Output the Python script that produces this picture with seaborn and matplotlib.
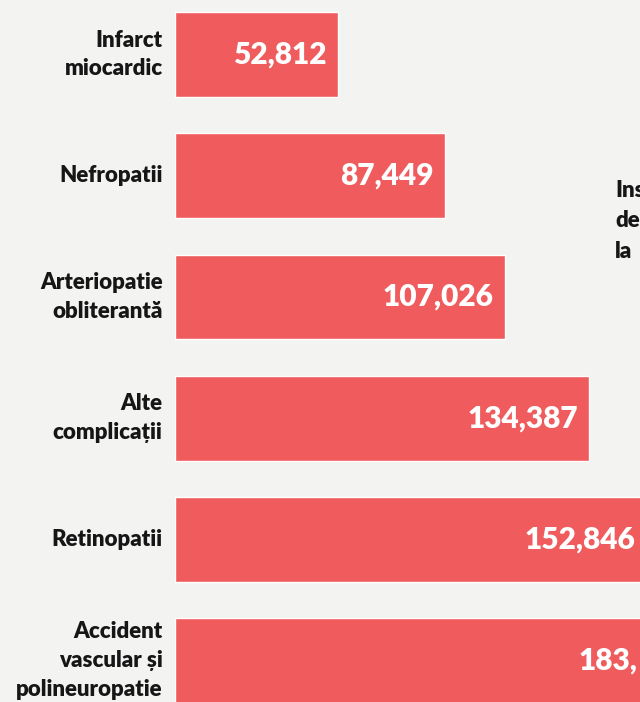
import matplotlib
matplotlib.use("Agg")
import pandas as pd
import seaborn as sns
import matplotlib.pyplot as plt

# values
categories = [
    "Infarct\nmiocardic",
    "Nefropatii",
    "Arteriopatie\nobliterantă",
    "Alte\ncomplicații",
    "Retinopatii",
    "Accident\nvascular și\npolineuropatie",
]
values = [52812, 87449, 107026, 134387, 152846, 183000]
value_labels = ["52,812", "87,449", "107,026", "134,387", "152,846", "183,"]

BG = "#f3f4f2"
BAR = "#f05b5d"
INK = "#161616"
XMAX = 150800

sns.set_theme(style="white")
plt.rcParams["font.family"] = ["Lato", "DejaVu Sans"]

df = pd.DataFrame({"cat": categories, "val": values})

fig = plt.figure(figsize=(6.4, 7.02), dpi=100, facecolor=BG)
ax = fig.add_axes([175 / 640, 0, 465 / 640, 1])
ax.set_facecolor(BG)

sns.barplot(data=df, y="cat", x="val", color=BAR, width=0.7,
            saturation=1, orient="h", ax=ax)

ax.set_xlim(0, XMAX)
ax.set_ylim(5.342, -0.45)
for s in ax.spines.values():
    s.set_visible(False)
ax.set_xticks([])
ax.set_xlabel("")
ax.set_ylabel("")
ax.tick_params(axis="y", length=0, pad=9)
for t in ax.get_yticklabels():
    t.set_fontsize(16)
    t.set_fontweight("heavy")
    t.set_color(INK)
    t.set_linespacing(1.45)
    t.set_verticalalignment("center")
    t.set_clip_on(False)

# a bar that runs far off the page gets its label pulled back into view
for i, (v, lab) in enumerate(zip(values, value_labels)):
    if v <= 160000:
        ax.annotate(lab, xy=(v, i), xytext=(-11, 0), textcoords="offset pixels",
                    ha="right", va="center", color="white",
                    fontsize=21.5, fontweight="heavy", annotation_clip=False)
    else:
        ax.annotate(lab, xy=(134600, i), xytext=(-11, 0), textcoords="offset pixels",
                    ha="left", va="center", color="white",
                    fontsize=21.5, fontweight="heavy", annotation_clip=False)

# partly hidden side note at the right edge
fig.text(615 / 640, 1 - 180 / 702, "Ins\nde\nla", ha="left", va="top",
         fontsize=16, fontweight="heavy", color=INK, linespacing=1.55)

fig.savefig("out.png", dpi=100, facecolor=BG)
